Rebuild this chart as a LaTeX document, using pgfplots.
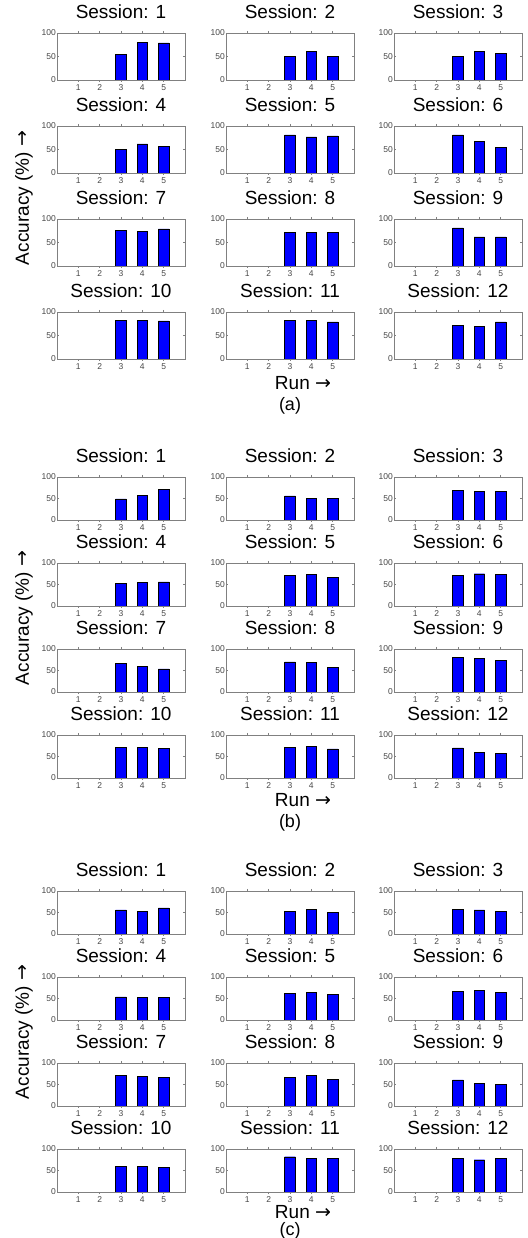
\documentclass[border=0pt]{standalone}
\usepackage{fontspec}
\setmainfont{Liberation Sans}
\newfontfamily\dv{DejaVu Sans}
\usepackage{pgfplots}
\pgfplotsset{compat=1.18}
\definecolor{barblue}{RGB}{0,0,255}
\definecolor{framegray}{RGB}{128,128,128}
\definecolor{labgray}{RGB}{70,70,70}
\pgfplotsset{
  sub/.style={
    anchor=south west,
    scale only axis,
    width=128pt,
    xmin=0, xmax=6, ymin=0, ymax=100,
    xtick={1,2,3,4,5}, ytick={0,50,100},
    tick align=inside,
    major tick length=2pt,
    axis line style={framegray},
    tick style={framegray, line width=0.4pt},
    /pgf/number format/assume math mode=true,
    ticklabel style={font=\fontsize{8.5}{9}\selectfont, text=labgray},
    xticklabel style={inner sep=1pt, yshift=-1.5pt},
    yticklabel style={inner sep=1pt},
    title style={at={(0.5,1)}, anchor=base, yshift=8pt, inner sep=0pt, font=\fontsize{19}{20}\selectfont},
    ybar, bar width=0.5,
    cycle list={{fill=barblue, draw=black!70, line width=0.5pt}},
  },
  ra/.style={sub, height=47pt},
  rb/.style={sub, height=43pt},
}
\tikzset{biglab/.style={inner sep=0pt, font=\fontsize{19}{20}\selectfont},
         subcapt/.style={inner sep=0pt, font=\fontsize{18}{20}\selectfont}}
\begin{document}
\begin{tikzpicture}
\useasboundingbox (0,0) rectangle (527pt,1238pt);
% ---------------- (a) ----------------
\begin{axis}[ra, at={(57pt,1158pt)}, title={Session: 1}]
\addplot coordinates {(3,55) (4,80) (5,79)};
\end{axis}
\begin{axis}[ra, at={(226pt,1158pt)}, title={Session: 2}]
\addplot coordinates {(3,50) (4,61) (5,51)};
\end{axis}
\begin{axis}[ra, at={(394pt,1158pt)}, title={Session: 3}]
\addplot coordinates {(3,50) (4,61) (5,56)};
\end{axis}
\begin{axis}[ra, at={(57pt,1065pt)}, title={Session: 4}]
\addplot coordinates {(3,51) (4,62) (5,57)};
\end{axis}
\begin{axis}[ra, at={(226pt,1065pt)}, title={Session: 5}]
\addplot coordinates {(3,81) (4,77) (5,79)};
\end{axis}
\begin{axis}[ra, at={(394pt,1065pt)}, title={Session: 6}]
\addplot coordinates {(3,81) (4,67) (5,55)};
\end{axis}
\begin{axis}[ra, at={(57pt,972pt)}, title={Session: 7}]
\addplot coordinates {(3,76) (4,74) (5,79)};
\end{axis}
\begin{axis}[ra, at={(226pt,972pt)}, title={Session: 8}]
\addplot coordinates {(3,71) (4,72) (5,72)};
\end{axis}
\begin{axis}[ra, at={(394pt,972pt)}, title={Session: 9}]
\addplot coordinates {(3,81) (4,62) (5,62)};
\end{axis}
\begin{axis}[ra, at={(57pt,879pt)}, title={Session: 10}]
\addplot coordinates {(3,82) (4,82) (5,81)};
\end{axis}
\begin{axis}[ra, at={(226pt,879pt)}, title={Session: 11}]
\addplot coordinates {(3,82) (4,82) (5,79)};
\end{axis}
\begin{axis}[ra, at={(394pt,879pt)}, title={Session: 12}]
\addplot coordinates {(3,71) (4,70) (5,79)};
\end{axis}
\node[biglab, rotate=90] at (24pt,1040pt) {Accuracy (\%) {\dv →}};
\node[biglab] at (303pt,855pt) {Run {\dv →}};
\node[subcapt] at (290pt,832pt) {(a)};
% ---------------- (b) ----------------
\begin{axis}[rb, at={(57pt,718pt)}, title={Session: 1}]
\addplot coordinates {(3,49) (4,57) (5,71)};
\end{axis}
\begin{axis}[rb, at={(226pt,718pt)}, title={Session: 2}]
\addplot coordinates {(3,56) (4,51) (5,50)};
\end{axis}
\begin{axis}[rb, at={(394pt,718pt)}, title={Session: 3}]
\addplot coordinates {(3,69) (4,66) (5,66)};
\end{axis}
\begin{axis}[rb, at={(57pt,632pt)}, title={Session: 4}]
\addplot coordinates {(3,52) (4,55) (5,56)};
\end{axis}
\begin{axis}[rb, at={(226pt,632pt)}, title={Session: 5}]
\addplot coordinates {(3,72) (4,74) (5,67)};
\end{axis}
\begin{axis}[rb, at={(394pt,632pt)}, title={Session: 6}]
\addplot coordinates {(3,72) (4,75) (5,74)};
\end{axis}
\begin{axis}[rb, at={(57pt,546pt)}, title={Session: 7}]
\addplot coordinates {(3,66) (4,60) (5,54)};
\end{axis}
\begin{axis}[rb, at={(226pt,546pt)}, title={Session: 8}]
\addplot coordinates {(3,70) (4,69) (5,58)};
\end{axis}
\begin{axis}[rb, at={(394pt,546pt)}, title={Session: 9}]
\addplot coordinates {(3,81) (4,78) (5,73)};
\end{axis}
\begin{axis}[rb, at={(57pt,460pt)}, title={Session: 10}]
\addplot coordinates {(3,71) (4,72) (5,69)};
\end{axis}
\begin{axis}[rb, at={(226pt,460pt)}, title={Session: 11}]
\addplot coordinates {(3,71) (4,74) (5,68)};
\end{axis}
\begin{axis}[rb, at={(394pt,460pt)}, title={Session: 12}]
\addplot coordinates {(3,70) (4,60) (5,57)};
\end{axis}
\node[biglab, rotate=90] at (24pt,620pt) {Accuracy (\%) {\dv →}};
\node[biglab] at (303pt,438pt) {Run {\dv →}};
\node[subcapt] at (290pt,415pt) {(b)};
% ---------------- (c) ----------------
\begin{axis}[rb, at={(57pt,304pt)}, title={Session: 1}]
\addplot coordinates {(3,56) (4,53) (5,61)};
\end{axis}
\begin{axis}[rb, at={(226pt,304pt)}, title={Session: 2}]
\addplot coordinates {(3,52) (4,57) (5,51)};
\end{axis}
\begin{axis}[rb, at={(394pt,304pt)}, title={Session: 3}]
\addplot coordinates {(3,58) (4,56) (5,52)};
\end{axis}
\begin{axis}[rb, at={(57pt,218pt)}, title={Session: 4}]
\addplot coordinates {(3,54) (4,52) (5,52)};
\end{axis}
\begin{axis}[rb, at={(226pt,218pt)}, title={Session: 5}]
\addplot coordinates {(3,62) (4,64) (5,59)};
\end{axis}
\begin{axis}[rb, at={(394pt,218pt)}, title={Session: 6}]
\addplot coordinates {(3,67) (4,69) (5,64)};
\end{axis}
\begin{axis}[rb, at={(57pt,132pt)}, title={Session: 7}]
\addplot coordinates {(3,71) (4,69) (5,66)};
\end{axis}
\begin{axis}[rb, at={(226pt,132pt)}, title={Session: 8}]
\addplot coordinates {(3,66) (4,71) (5,62)};
\end{axis}
\begin{axis}[rb, at={(394pt,132pt)}, title={Session: 9}]
\addplot coordinates {(3,61) (4,52) (5,51)};
\end{axis}
\begin{axis}[rb, at={(57pt,46pt)}, title={Session: 10}]
\addplot coordinates {(3,60) (4,60) (5,58)};
\end{axis}
\begin{axis}[rb, at={(226pt,46pt)}, title={Session: 11}]
\addplot coordinates {(3,82) (4,78) (5,78)};
\end{axis}
\begin{axis}[rb, at={(394pt,46pt)}, title={Session: 12}]
\addplot coordinates {(3,78) (4,75) (5,78)};
\end{axis}
\node[biglab, rotate=90] at (24pt,206pt) {Accuracy (\%) {\dv →}};
\node[biglab] at (303pt,26pt) {Run {\dv →}};
\node[subcapt] at (290pt,7pt) {(c)};
\end{tikzpicture}
\end{document}
